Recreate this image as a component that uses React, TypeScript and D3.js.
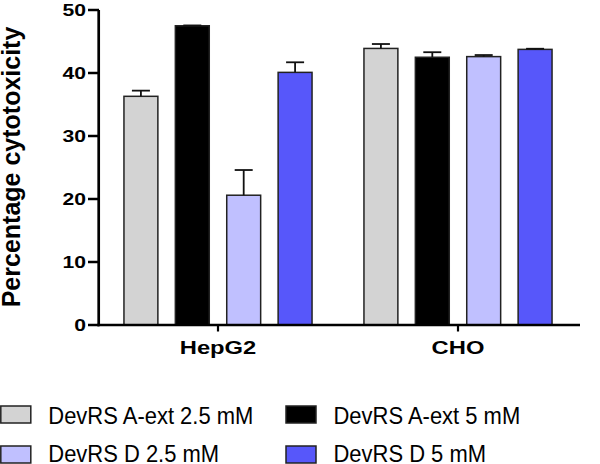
import React from "react";
import * as d3 from "d3";

const groups = ["HepG2", "CHO"];
const series = ["DevRS A-ext 2.5 mM", "DevRS A-ext 5 mM", "DevRS D 2.5 mM", "DevRS D 5 mM"];
const colors = ["#d3d3d3", "#000000", "#c0c0ff", "#5757fa"];
const hepg2Values = [36.3, 47.5, 20.6, 40.1];
const hepg2Errors = [0.9, 0.05, 4.0, 1.6];
const choValues = [43.9, 42.5, 42.6, 43.75];
const choErrors = [0.7, 0.8, 0.25, 0.1];
const yTicks = [0, 10, 20, 30, 40, 50];
const yLabel = "Percentage cytotoxicity";

const W = 600;
const H = 464;
const FONT = "'Liberation Sans', Arial, Helvetica, sans-serif";

export default function App() {
  const y = d3.scaleLinear().domain([0, 50]).range([325, 10]);
  const x0 = d3.scaleBand<string>().domain(groups).range([98, 578]).padding(0);
  const x1 = d3
    .scaleBand<string>()
    .domain(series)
    .range([0, x0.bandwidth()])
    .paddingInner(0.34)
    .paddingOuter(0.505);

  const data = groups.map((g, gi) => ({
    group: g,
    values: gi === 0 ? hepg2Values : choValues,
    errors: gi === 0 ? hepg2Errors : choErrors,
  }));

  const bw = x1.bandwidth();
  const capW = 18;

  return (
    <svg
      width={W}
      height={H}
      style={{ position: "absolute", left: 0, top: 0, background: "#fff" }}
      fontFamily={FONT}
    >
      <rect x={0} y={0} width={W} height={H} fill="#fff" />
      {/* bars */}
      {data.map((d) =>
        series.map((s, si) => {
          const bx = (x0(d.group) as number) + (x1(s) as number);
          return (
            <rect
              key={d.group + s}
              x={bx}
              y={y(d.values[si])}
              width={bw}
              height={y(0) - y(d.values[si])}
              fill={colors[si]}
              stroke="#222"
              strokeWidth={1.5}
            />
          );
        })
      )}
      {/* error bars */}
      {data.map((d) =>
        series.map((s, si) => {
          const cx = (x0(d.group) as number) + (x1(s) as number) + bw / 2;
          const top = y(d.values[si] + d.errors[si]);
          return (
            <g key={"e" + d.group + s} stroke="#111" strokeWidth={1.8}>
              <line x1={cx} x2={cx} y1={y(d.values[si])} y2={top} />
              <line x1={cx - capW / 2} x2={cx + capW / 2} y1={top} y2={top} />
            </g>
          );
        })
      )}
      {/* y axis */}
      <line x1={98.7} x2={98.7} y1={y(50)} y2={y(0) + 1.3} stroke="#000" strokeWidth={2.7} />
      {yTicks.map((t) => (
        <g key={t}>
          <line x1={88} x2={99} y1={y(t)} y2={y(t)} stroke="#000" strokeWidth={2.5} />
          <g transform={`translate(86,${y(t) + 5.5}) scale(1.28,1)`}>
            <text textAnchor="end" fontSize={16.5} fontWeight="bold" fill="#000">
              {t}
            </text>
          </g>
        </g>
      ))}
      <text
        transform={`translate(19.5,167) rotate(-90)`}
        textAnchor="middle"
        fontSize={25}
        fontWeight="bold"
        fill="#000"
      >
        {yLabel}
      </text>
      {/* x axis */}
      <line x1={97.4} x2={580} y1={y(0)} y2={y(0)} stroke="#000" strokeWidth={2.7} />
      {groups.map((g) => {
        const cx = (x0(g) as number) + x0.bandwidth() / 2;
        return (
          <g key={g}>
            <line x1={cx} x2={cx} y1={y(0)} y2={y(0) + 6.5} stroke="#000" strokeWidth={2.2} />
            <g transform={`translate(${cx},354.3) scale(1.35,1)`}>
              <text textAnchor="middle" fontSize={17.6} fontWeight="bold" fill="#000">
                {g}
              </text>
            </g>
          </g>
        );
      })}
      {/* legend */}
      {series.map((s, si) => {
        const col = si % 2;
        const row = Math.floor(si / 2);
        const lx = col === 0 ? 0.8 : 286;
        const ly = row === 0 ? 406 : 446;
        const baseline = row === 0 ? 423.5 : 462;
        return (
          <g key={"l" + s}>
            <rect x={lx} y={ly} width={30} height={17} fill={colors[si]} stroke="#222" strokeWidth={1.5} />
            <g transform={`translate(${lx + 47.5},${baseline}) scale(0.915,1)`}>
              <text fontSize={24} fill="#000">
                {s}
              </text>
            </g>
          </g>
        );
      })}
    </svg>
  );
}
